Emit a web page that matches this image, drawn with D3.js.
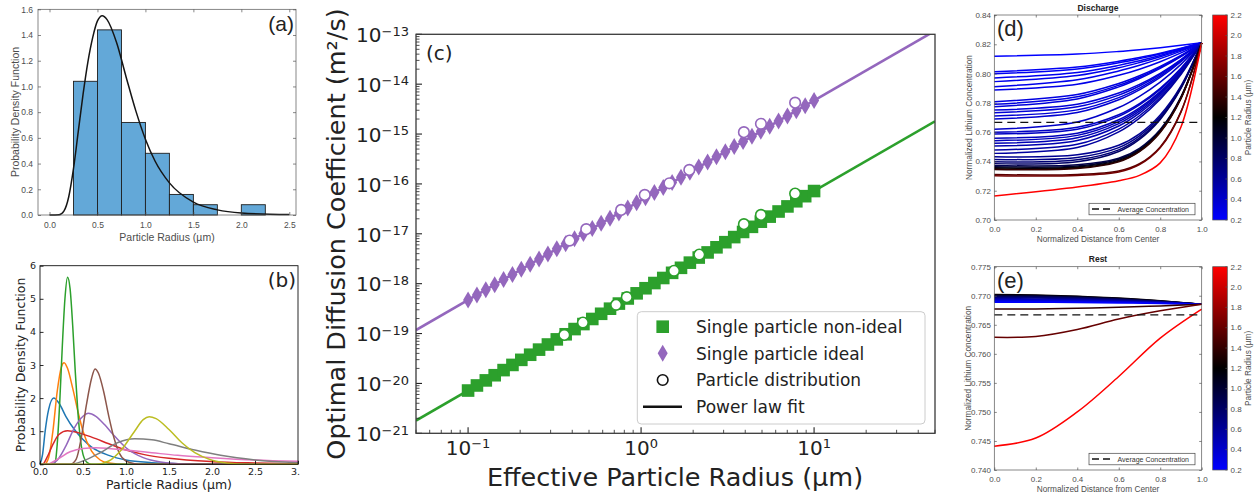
<!DOCTYPE html>
<html>
<head>
<meta charset="utf-8">
<script src="https://cdn.jsdelivr.net/npm/d3@7/dist/d3.min.js"></script>
<style>
  body { margin: 0; background: #fff; }
  svg { display: block; }
</style>
</head>
<body>
<div id="fig"></div>
<script>
// ---------- (a) histogram of particle radii with fitted pdf
var histEdges = [0.25, 0.5, 0.75, 1.0, 1.25, 1.5, 1.75, 2.0, 2.25];
var histDensity = [1.04, 1.44, 0.72, 0.48, 0.16, 0.08, 0, 0.08];
var fitR = [0, 0.1, 0.15, 0.2, 0.25, 0.3, 0.35, 0.4, 0.45, 0.5, 0.55, 0.6, 0.7, 0.8, 0.9, 1.0, 1.1, 1.25, 1.5, 1.75, 2.0, 2.5];
var fitPdf = [0, 0.002, 0.03, 0.14, 0.36, 0.65, 0.94, 1.19, 1.38, 1.51, 1.55, 1.52, 1.34, 1.07, 0.81, 0.59, 0.42, 0.25, 0.10, 0.04, 0.016, 0.003];
var aTicksX = [0, 0.5, 1.0, 1.5, 2.0, 2.5];
var aTicksY = [0, 0.2, 0.4, 0.6, 0.8, 1.0, 1.2, 1.4, 1.6];

// ---------- (b) size distributions
var distBlue = [[0,0],[0.03,0.3],[0.06,1.0],[0.1,1.65],[0.16,2.0],[0.22,1.85],[0.3,1.45],[0.4,1.05],[0.5,0.75],[0.6,0.52],[0.8,0.27],[1.0,0.13],[1.3,0.05],[1.6,0.02],[2.0,0.005],[3.0,0]];
var distOrange = [[0,0],[0.05,0],[0.1,0.2],[0.15,1.0],[0.2,2.2],[0.25,2.95],[0.28,3.07],[0.32,2.9],[0.38,2.3],[0.45,1.5],[0.5,1.0],[0.6,0.4],[0.7,0.13],[0.8,0.04],[1.0,0],[3.0,0]];
var distGreen = [[0,0],[0.15,0],[0.18,0.1],[0.2,0.6],[0.23,1.9],[0.26,3.6],[0.29,5.0],[0.32,5.65],[0.35,5.3],[0.38,4.2],[0.41,2.8],[0.44,1.6],[0.47,0.75],[0.5,0.3],[0.55,0.05],[0.6,0],[3.0,0]];
var distRed = [[0,0],[0.03,0],[0.08,0.2],[0.15,0.6],[0.22,0.9],[0.32,1.01],[0.45,0.95],[0.6,0.82],[0.8,0.62],[1.0,0.43],[1.2,0.3],[1.5,0.18],[2.0,0.08],[2.5,0.04],[3.0,0.02]];
var distPurple = [[0,0],[0.12,0],[0.2,0.12],[0.3,0.55],[0.4,1.1],[0.5,1.45],[0.56,1.54],[0.65,1.45],[0.75,1.2],[0.85,0.9],[1.0,0.5],[1.2,0.2],[1.4,0.07],[1.7,0.01],[2.0,0],[3.0,0]];
var distBrown = [[0,0],[0.35,0],[0.42,0.15],[0.48,0.8],[0.54,1.8],[0.6,2.6],[0.64,2.88],[0.68,2.75],[0.74,2.2],[0.8,1.45],[0.86,0.8],[0.92,0.35],[1.0,0.1],[1.1,0.02],[1.2,0],[3.0,0]];
var distPink = [[0,0],[0.08,0],[0.2,0.15],[0.35,0.38],[0.5,0.48],[0.65,0.5],[0.8,0.48],[1.0,0.43],[1.3,0.35],[1.6,0.27],[2.0,0.2],[2.5,0.13],[3.0,0.09]];
var distGray = [[0,0],[0.35,0],[0.5,0.1],[0.7,0.35],[0.9,0.65],[1.1,0.77],[1.3,0.74],[1.5,0.62],[1.8,0.43],[2.1,0.27],[2.5,0.13],[3.0,0.05]];
var distOlive = [[0,0],[0.65,0],[0.8,0.1],[0.95,0.45],[1.1,1.0],[1.2,1.35],[1.27,1.44],[1.35,1.38],[1.5,1.05],[1.65,0.65],[1.8,0.35],[2.0,0.12],[2.2,0.03],[2.4,0],[3.0,0]];
var distColors = ["#1f77b4", "#ff7f0e", "#2ca02c", "#d62728", "#9467bd", "#8c564b", "#e377c2", "#7f7f7f", "#bcbd22"];
var bTicksX = [0, 0.5, 1.0, 1.5, 2.0, 2.5, 3.0];
var bTicksY = [0, 1, 2, 3, 4, 5, 6];

// ---------- (c) optimal diffusion coefficient vs radius
var radiusSingle = [0.1, 0.1125, 0.1266, 0.1425, 0.1604, 0.1805, 0.2031, 0.2285, 0.2572, 0.2894,
  0.3257, 0.3665, 0.4125, 0.4642, 0.5223, 0.5878, 0.6614, 0.7443, 0.8376, 0.9426,
  1.0608, 1.1937, 1.3433, 1.5117, 1.7011, 1.9143, 2.1542, 2.4242, 2.728, 3.0699,
  3.4546, 3.8876, 4.3748, 4.9231, 5.5401, 6.2345, 7.0159, 7.8952, 8.8848, 10.0];
var dNonIdeal = [7.2e-21, 9.1e-21, 1.15e-20, 1.46e-20, 1.85e-20, 2.35e-20, 2.97e-20, 3.76e-20, 4.76e-20, 6.03e-20,
  7.64e-20, 9.67e-20, 1.23e-19, 1.55e-19, 1.96e-19, 2.49e-19, 3.15e-19, 3.99e-19, 5.05e-19, 6.4e-19,
  8.1e-19, 1.03e-18, 1.3e-18, 1.65e-18, 2.08e-18, 2.64e-18, 3.34e-18, 4.23e-18, 5.36e-18, 6.79e-18,
  8.59e-18, 1.09e-17, 1.38e-17, 1.75e-17, 2.21e-17, 2.8e-17, 3.54e-17, 4.49e-17, 5.68e-17, 7.2e-17];
var dIdeal = [4.7e-19, 5.95e-19, 7.53e-19, 9.54e-19, 1.21e-18, 1.53e-18, 1.94e-18, 2.45e-18, 3.11e-18, 3.94e-18,
  4.99e-18, 6.31e-18, 8.0e-18, 1.01e-17, 1.28e-17, 1.62e-17, 2.06e-17, 2.6e-17, 3.3e-17, 4.18e-17,
  5.29e-17, 6.7e-17, 8.48e-17, 1.07e-16, 1.36e-16, 1.72e-16, 2.18e-16, 2.76e-16, 3.5e-16, 4.43e-16,
  5.61e-16, 7.1e-16, 9.0e-16, 1.14e-15, 1.44e-15, 1.83e-15, 2.31e-15, 2.93e-15, 3.71e-15, 4.7e-15];
var radiusDistNonIdeal = [0.36, 0.461, 0.717, 0.827, 1.55, 2.17, 3.93, 4.93, 7.77];
var dDistNonIdeal = [9.4e-20, 1.66e-19, 3.76e-19, 5.36e-19, 1.81e-18, 3.83e-18, 1.56e-17, 2.39e-17, 6.4e-17];
var radiusDistIdeal = [0.386, 0.482, 0.767, 1.05, 1.457, 1.9, 3.93, 4.93, 7.77];
var dDistIdeal = [7.3e-18, 1.24e-17, 3.01e-17, 6.03e-17, 1.03e-16, 1.91e-16, 1.09e-15, 1.61e-15, 4.26e-15];
var fitRange = [0.05, 50];
var fitNonIdeal = [1.8e-21, 1.8e-15];
var fitIdeal = [1.175e-19, 1.175e-13];
var cExpX = [-1, 0, 1];
var cExpY = [-21, -20, -19, -18, -17, -16, -15, -14, -13];
var legendLabels = ["Single particle non-ideal", "Single particle ideal", "Particle distribution", "Power law fit"];

// ---------- (d) discharge profiles
var dischargeX = [0, 0.4, 0.6, 0.7, 0.8, 0.9, 1.0];
var dischargeRadius = [0.20, 0.24, 0.25, 0.26, 0.27, 0.28, 0.29, 0.32, 0.33, 0.34, 0.35, 0.36, 0.37, 0.38,
  0.42, 0.43, 0.44, 0.46, 0.47, 0.49, 0.51, 0.54, 0.58, 0.63, 0.68, 0.74, 0.80, 0.90, 1.00, 1.12, 1.25, 1.38,
  1.55, 1.65, 2.20];
var dischargeConc = [
  [.8118,.8133,.8151,.8163,.8177,.8193,.821],
  [.8013,.8045,.8084,.8110,.8139,.8173,.821],
  [.7998,.8032,.8074,.8102,.8134,.8170,.821],
  [.7970,.8008,.8056,.8088,.8124,.8164,.821],
  [.7945,.7987,.8040,.8075,.8115,.8160,.821],
  [.7910,.7958,.8018,.8057,.8102,.8153,.821],
  [.7888,.7927,.7988,.8030,.8081,.8141,.821],
  [.7808,.7857,.7932,.7985,.8049,.8124,.821],
  [.7790,.7841,.7920,.7975,.8042,.8120,.821],
  [.7774,.7827,.7909,.7966,.8035,.8116,.821],
  [.7751,.7790,.7867,.7926,.8002,.8096,.821],
  [.7733,.7773,.7853,.7915,.7994,.8092,.821],
  [.7710,.7752,.7836,.7901,.7984,.8086,.821],
  [.7690,.7734,.7821,.7889,.7974,.8081,.821],
  [.7619,.7669,.7768,.7845,.7942,.8063,.821],
  [.7600,.7633,.7719,.7795,.7899,.8036,.821],
  [.7587,.7620,.7708,.7786,.7892,.8032,.821],
  [.7558,.7593,.7685,.7766,.7877,.8023,.821],
  [.7542,.7578,.7672,.7755,.7869,.8019,.821],
  [.7524,.7561,.7658,.7743,.7860,.8014,.821],
  [.7505,.7543,.7642,.7730,.7850,.8008,.821],
  [.7478,.7517,.7621,.7712,.7837,.8001,.821],
  [.7455,.7495,.7602,.7696,.7825,.7994,.821],
  [.7432,.7445,.7510,.7588,.7717,.7916,.821],
  [.7414,.7427,.7494,.7574,.7705,.7909,.821],
  [.7398,.7411,.7479,.7561,.7695,.7903,.821],
  [.7385,.7398,.7468,.7551,.7687,.7898,.821],
  [.7372,.7377,.7422,.7490,.7618,.7841,.821],
  [.7364,.7369,.7415,.7483,.7612,.7838,.821],
  [.7356,.7362,.7407,.7476,.7606,.7834,.821],
  [.7350,.7356,.7402,.7471,.7602,.7832,.821],
  [.7345,.7351,.7397,.7467,.7598,.7829,.821],
  [.7310,.7311,.7335,.7384,.7499,.7740,.821],
  [.7303,.7304,.7328,.7378,.7493,.7737,.821],
  [.7164,.7225,.7268,.7305,.7390,.7635,.821]
];
var avgConc = 0.7667;
var dTicksY = [0.70, 0.72, 0.74, 0.76, 0.78, 0.80, 0.82, 0.84];
var unitTicks = [0, 0.2, 0.4, 0.6, 0.8, 1.0];
var cbarTicks = [0.2, 0.4, 0.6, 0.8, 1.0, 1.2, 1.4, 1.6, 1.8, 2.0, 2.2];

// ---------- (e) rest profiles
var restX = [0, 0.2, 0.4, 0.6, 0.8, 1.0];
var restRadius = [1.25, 1.10, 1.00, 0.90, 0.80, 0.70, 0.60, 0.50, 0.40, 0.30, 0.20, 1.40, 1.60, 2.20];
var restConc = [
  [.77020,.77013,.76993,.76960,.76913,.76853],
  [.77010,.77004,.76985,.76953,.76910,.76853],
  [.77000,.76994,.76976,.76947,.76906,.76853],
  [.76990,.76985,.76968,.76941,.76902,.76853],
  [.76980,.76975,.76960,.76934,.76899,.76853],
  [.76965,.76961,.76947,.76925,.76893,.76853],
  [.76950,.76946,.76934,.76915,.76888,.76853],
  [.76935,.76932,.76922,.76905,.76883,.76853],
  [.76920,.76917,.76909,.76896,.76877,.76853],
  [.76905,.76903,.76897,.76886,.76872,.76853],
  [.76890,.76889,.76884,.76877,.76867,.76853],
  [.76770,.76772,.76785,.76800,.76825,.76853],
  [.76285,.76300,.76420,.76600,.76740,.76853],
  [.74410,.74550,.75000,.75610,.76270,.76770]
];
var eTicksY = [0.740, 0.745, 0.750, 0.755, 0.760, 0.765, 0.770, 0.775];

var MAT = "'Liberation Sans', Arial, sans-serif";
var MPL = "'DejaVu Sans', sans-serif";

var svg = d3.select("#fig").append("svg")
    .attr("width", 1255)
    .attr("height", 492);
var defs = svg.append("defs");

// axes with inward ticks, optional mirrored ticks on top/right
function drawAxes(g, x, y, o) {
    var y0 = y.range()[0], y1 = y.range()[1], x0 = x.range()[0], x1 = x.range()[1];
    var bx = g.append("g").attr("transform", "translate(0," + y0 + ")")
        .call(d3.axisBottom(x).tickValues(o.xt).tickFormat(o.xf).tickSizeInner(-o.len).tickSizeOuter(0).tickPadding(o.xpad));
    var ly = g.append("g").attr("transform", "translate(" + x0 + ",0)")
        .call(d3.axisLeft(y).tickValues(o.yt).tickFormat(o.yf).tickSizeInner(-o.len).tickSizeOuter(0).tickPadding(o.ypad));
    var all = [bx, ly];
    if (o.mirror) {
        all.push(g.append("g").attr("transform", "translate(0," + y1 + ")")
            .call(d3.axisTop(x).tickValues(o.xt).tickFormat("").tickSizeInner(-o.len).tickSizeOuter(0)));
        all.push(g.append("g").attr("transform", "translate(" + x1 + ",0)")
            .call(d3.axisRight(y).tickValues(o.yt).tickFormat("").tickSizeInner(-o.len).tickSizeOuter(0)));
    }
    all.forEach(function (a) {
        a.select(".domain").remove();
        a.selectAll("line").attr("stroke", o.color).attr("stroke-width", o.lw || 0.8);
        a.selectAll("text").attr("fill", o.tcolor).style("font-size", o.fs + "px").style("font-family", o.font);
    });
    g.append("rect").attr("x", x0).attr("y", y1).attr("width", x1 - x0).attr("height", y0 - y1)
        .attr("fill", "none").attr("stroke", o.color).attr("stroke-width", o.lw || 0.8);
}

function label(g, txt, x, y, fs, font, opts) {
    opts = opts || {};
    var t = g.append("text").attr("x", x).attr("y", y).text(txt)
        .style("font-size", fs + "px").style("font-family", font)
        .attr("fill", opts.fill || "#222")
        .attr("text-anchor", opts.anchor || "middle");
    if (opts.rotate) t.attr("transform", "rotate(-90," + x + "," + y + ")");
    if (opts.bold) t.style("font-weight", "bold");
    return t;
}

// ================= (a)
var xa = d3.scaleLinear().domain([-0.12, 2.57]).range([38, 296]);
var ya = d3.scaleLinear().domain([0, 1.6]).range([215, 9.3]);
var ga = svg.append("g");
ga.selectAll("rect.bar")
    .data(histDensity.map(function (d, i) { return { lo: histEdges[i], hi: histEdges[i + 1], v: d }; })
        .filter(function (d) { return d.v > 0; }))
    .enter().append("rect")
    .attr("class", "bar")
    .attr("x", function (d) { return xa(d.lo); })
    .attr("width", function (d) { return xa(d.hi) - xa(d.lo); })
    .attr("y", function (d) { return ya(d.v); })
    .attr("height", function (d) { return ya(0) - ya(d.v); })
    .attr("fill", "#63a8d8")
    .attr("stroke", "#1e1e1e")
    .attr("stroke-width", 0.9);
ga.append("path")
    .attr("d", d3.line().x(function (d, i) { return xa(fitR[i]); }).y(function (d) { return ya(d); })
        .curve(d3.curveMonotoneX)(fitPdf))
    .attr("fill", "none").attr("stroke", "#151515").attr("stroke-width", 1.5);
drawAxes(ga, xa, ya, { xt: aTicksX, yt: aTicksY, xf: d3.format(".1f"), yf: d3.format(".1f"),
    len: 3, xpad: 7, ypad: 5, fs: 8.5, font: MAT, color: "#555", tcolor: "#4d4d4d", mirror: true, lw: 0.7 });
label(ga, "Particle Radius (\u00b5m)", 167, 241, 10.5, MAT, { fill: "#4d4d4d" });
label(ga, "Probability Density Function", 18.5, 112, 10.5, MAT, { fill: "#4d4d4d", rotate: true });
label(ga, "(a)", 294, 31, 21, MAT, { anchor: "end", fill: "#222" });

// ================= (b)
defs.append("clipPath").attr("id", "clipB").append("rect")
    .attr("x", 0).attr("y", 245).attr("width", 300).attr("height", 247);
var xb = d3.scaleLinear().domain([0, 3]).range([40, 298]);
var yb = d3.scaleLinear().domain([0, 6]).range([464.3, 265.7]);
var gb = svg.append("g").attr("clip-path", "url(#clipB)");
var lineB = d3.line().x(function (d) { return xb(d[0]); }).y(function (d) { return yb(d[1]); }).curve(d3.curveMonotoneX);
[distBlue, distOrange, distGreen, distRed, distPurple, distBrown, distPink, distGray, distOlive].forEach(function (s, i) {
    gb.append("path").attr("d", lineB(s)).attr("fill", "none")
        .attr("stroke", distColors[i]).attr("stroke-width", 1.5);
});
drawAxes(gb, xb, yb, { xt: bTicksX, yt: bTicksY, xf: d3.format(".1f"), yf: d3.format("d"),
    len: 3.5, xpad: 4, ypad: 4, fs: 9.5, font: MPL, color: "#111", tcolor: "#222", mirror: false, lw: 0.9 });
label(gb, "Particle Radius (\u00b5m)", 169, 489, 12.5, MPL);
label(gb, "Probability Density Function", 25, 365, 12.5, MPL, { rotate: true });
label(gb, "(b)", 296, 287, 20, MPL, { anchor: "end" });

// ================= (c)
var xc = d3.scaleLog().domain([0.05, 50]).range([416, 935]);
var yc = d3.scaleLog().domain([1e-21, 1e-13]).range([433.3, 34.3]);
var gc = svg.append("g").style("font-family", MPL);
defs.append("clipPath").attr("id", "clipC").append("rect")
    .attr("x", 416).attr("y", 34.3).attr("width", 519).attr("height", 399);
var fitLine = d3.line().x(function (d, i) { return xc(fitRange[i]); }).y(function (d) { return yc(d); });
gc.append("path").attr("d", fitLine(fitNonIdeal)).attr("clip-path", "url(#clipC)")
    .attr("stroke", "#2ca02c").attr("stroke-width", 2.6).attr("fill", "none");
gc.append("path").attr("d", fitLine(fitIdeal)).attr("clip-path", "url(#clipC)")
    .attr("stroke", "#9467bd").attr("stroke-width", 2.6).attr("fill", "none");

var diamond = "M0,-8.5L5,0L0,8.5L-5,0Z";
gc.selectAll(".sq").data(dNonIdeal).enter().append("rect")
    .attr("x", function (d, i) { return xc(radiusSingle[i]) - 6.3; })
    .attr("y", function (d) { return yc(d) - 6.3; })
    .attr("width", 12.6).attr("height", 12.6)
    .attr("fill", "#2ca02c");
gc.selectAll(".dm").data(dIdeal).enter().append("path")
    .attr("d", diamond)
    .attr("transform", function (d, i) { return "translate(" + xc(radiusSingle[i]) + "," + yc(d) + ")"; })
    .attr("fill", "#9467bd");
gc.selectAll(".cn").data(dDistNonIdeal).enter().append("circle")
    .attr("cx", function (d, i) { return xc(radiusDistNonIdeal[i]); })
    .attr("cy", function (d) { return yc(d); })
    .attr("r", 5.3).attr("fill", "#fff").attr("stroke", "#2ca02c").attr("stroke-width", 1.6);
gc.selectAll(".ci").data(dDistIdeal).enter().append("circle")
    .attr("cx", function (d, i) { return xc(radiusDistIdeal[i]); })
    .attr("cy", function (d) { return yc(d); })
    .attr("r", 5.3).attr("fill", "#fff").attr("stroke", "#9467bd").attr("stroke-width", 1.6);

// log ticks, inward, left and bottom
function isMajor(v) { var l = Math.log10(v); return Math.abs(l - Math.round(l)) < 1e-6; }
yc.ticks().forEach(function (v) {
    var len = isMajor(v) ? 6 : 3.5;
    gc.append("line").attr("x1", 416).attr("x2", 416 + len).attr("y1", yc(v)).attr("y2", yc(v))
        .attr("stroke", "#222").attr("stroke-width", isMajor(v) ? 1.1 : 0.8);
});
xc.ticks().forEach(function (v) {
    var len = isMajor(v) ? 6 : 3.5;
    gc.append("line").attr("y1", 433.3).attr("y2", 433.3 - len).attr("x1", xc(v)).attr("x2", xc(v))
        .attr("stroke", "#222").attr("stroke-width", isMajor(v) ? 1.1 : 0.8);
});
gc.append("rect").attr("x", 416).attr("y", 34.3).attr("width", 519).attr("height", 399)
    .attr("fill", "none").attr("stroke", "#3a3a3a").attr("stroke-width", 1.3);

function expText(e) { return (e < 0 ? "\u2212" : "") + Math.abs(e); }
cExpY.forEach(function (e) {
    var t = gc.append("text").attr("x", 409).attr("y", yc(Math.pow(10, e)) + 7.7)
        .attr("text-anchor", "end").attr("fill", "#222").style("font-size", "20px");
    t.append("tspan").text("10");
    t.append("tspan").attr("dy", -6.5).style("font-size", "13px").text(expText(e));
});
cExpX.forEach(function (e) {
    var t = gc.append("text").attr("x", xc(Math.pow(10, e))).attr("y", 455)
        .attr("text-anchor", "middle").attr("fill", "#222").style("font-size", "20px");
    t.append("tspan").text("10");
    t.append("tspan").attr("dy", -7).style("font-size", "13px").text(expText(e));
});
label(gc, "Effective Particle Radius (\u00b5m)", 675, 486, 25.5, MPL);
label(gc, "Optimal Diffusion Coefficient (m\u00b2/s)", 345, 234, 25.5, MPL, { rotate: true });
label(gc, "(c)", 426, 60, 20, MPL, { anchor: "start" });

// legend
var lg = gc.append("g");
lg.append("rect").attr("x", 637.3).attr("y", 311.7).attr("width", 287.7).attr("height", 112.3)
    .attr("rx", 4).attr("fill", "#fff").attr("fill-opacity", 0.8).attr("stroke", "#ccc");
var rowY = [326.7, 353.3, 380, 406.7];
lg.append("rect").attr("x", 662.7 - 6.3).attr("y", rowY[0] - 6.3).attr("width", 12.6).attr("height", 12.6).attr("fill", "#2ca02c");
lg.append("path").attr("d", diamond).attr("transform", "translate(662.7," + rowY[1] + ")").attr("fill", "#9467bd");
lg.append("circle").attr("cx", 662.7).attr("cy", rowY[2]).attr("r", 5.3).attr("fill", "#fff").attr("stroke", "#111").attr("stroke-width", 1.6);
lg.append("line").attr("x1", 643).attr("x2", 682).attr("y1", rowY[3]).attr("y2", rowY[3]).attr("stroke", "#111").attr("stroke-width", 2.6);
legendLabels.forEach(function (s, i) {
    label(lg, s, 696, rowY[i] + 6.2, 17, MPL, { anchor: "start" });
});

// ================= (d) and (e) shared pieces
var cmap = d3.scaleLinear().domain([0.2, 1.2, 2.2]).range(["#0000ff", "#000000", "#ff0000"]);
var grad = defs.append("linearGradient").attr("id", "cbar").attr("x1", 0).attr("y1", 1).attr("x2", 0).attr("y2", 0);
[0.2, 1.2, 2.2].forEach(function (v) {
    grad.append("stop").attr("offset", (v - 0.2) / 2).attr("stop-color", cmap(v));
});

function profilePanel(top, bottom, yDomain, yTicks, yFmt, xs, radii, conc, title, tag) {
    var x = d3.scaleLinear().domain([0, 1]).range([994.3, 1201.7]);
    var y = d3.scaleLinear().domain(yDomain).range([bottom, top]);
    var g = svg.append("g");
    var ln = d3.line().x(function (d, i) { return x(xs[i]); }).y(function (d) { return y(d); })
        .curve(d3.curveCatmullRom.alpha(0.5));
    conc.forEach(function (c, i) {
        g.append("path").attr("d", ln(c)).attr("fill", "none")
            .attr("stroke", cmap(radii[i])).attr("stroke-width", 1.5);
    });
    g.append("line").attr("x1", x(0)).attr("x2", x(1)).attr("y1", y(avgConc)).attr("y2", y(avgConc))
        .attr("stroke", "#111").attr("stroke-width", 1.4).attr("stroke-dasharray", "8,5");
    drawAxes(g, x, y, { xt: unitTicks, yt: yTicks, xf: d3.format(".1f"), yf: yFmt,
        len: 2.5, xpad: 6.5, ypad: 3.3, fs: 8, font: MAT, color: "#555", tcolor: "#4d4d4d", mirror: true, lw: 0.7 });
    // legend
    g.append("rect").attr("x", 1089).attr("y", bottom - 16.7).attr("width", 106).attr("height", 11.5)
        .attr("fill", "#fff").attr("stroke", "#444").attr("stroke-width", 0.7);
    g.append("line").attr("x1", 1092).attr("x2", 1112).attr("y1", bottom - 11).attr("y2", bottom - 11)
        .attr("stroke", "#111").attr("stroke-width", 1.3).attr("stroke-dasharray", "7,4");
    label(g, "Average Concentration", 1117.5, bottom - 8.5, 7, MAT, { anchor: "start", fill: "#333" });
    // titles and labels
    label(g, title, (994.3 + 1201.7) / 2, top - 4.5, 8.5, MAT, { bold: true, fill: "#222" });
    label(g, "Normalized Lithium Concentration", 971.5, (top + bottom) / 2, 8.3, MAT, { rotate: true, fill: "#4d4d4d" });
    label(g, "Normalized Distance from Center", (994.3 + 1201.7) / 2, bottom + 22, 8.3, MAT, { fill: "#4d4d4d" });
    label(g, tag, 997, top + 21, 22, MAT, { anchor: "start", fill: "#222" });
    // colorbar
    var cy = d3.scaleLinear().domain([0.2, 2.2]).range([bottom, top]);
    g.append("rect").attr("x", 1212.7).attr("y", top).attr("width", 14.6).attr("height", bottom - top)
        .attr("fill", "url(#cbar)").attr("stroke", "#555").attr("stroke-width", 0.7);
    cbarTicks.forEach(function (v) {
        g.append("line").attr("x1", 1227.3).attr("x2", 1225.3).attr("y1", cy(v)).attr("y2", cy(v))
            .attr("stroke", "#555").attr("stroke-width", 0.7);
        label(g, d3.format(".1f")(v), 1230.5, cy(v) + 2.8, 8, MAT, { anchor: "start", fill: "#4d4d4d" });
    });
    label(g, "Particle Radius (\u00b5m)", 1251, (top + bottom) / 2, 8.3, MAT, { rotate: true, fill: "#4d4d4d" });
}

profilePanel(15, 220, [0.70, 0.84], dTicksY, d3.format(".2f"), dischargeX, dischargeRadius, dischargeConc, "Discharge", "(d)");
profilePanel(266.7, 470, [0.740, 0.775], eTicksY, d3.format(".3f"), restX, restRadius, restConc, "Rest", "(e)");
</script>
</body>
</html>
